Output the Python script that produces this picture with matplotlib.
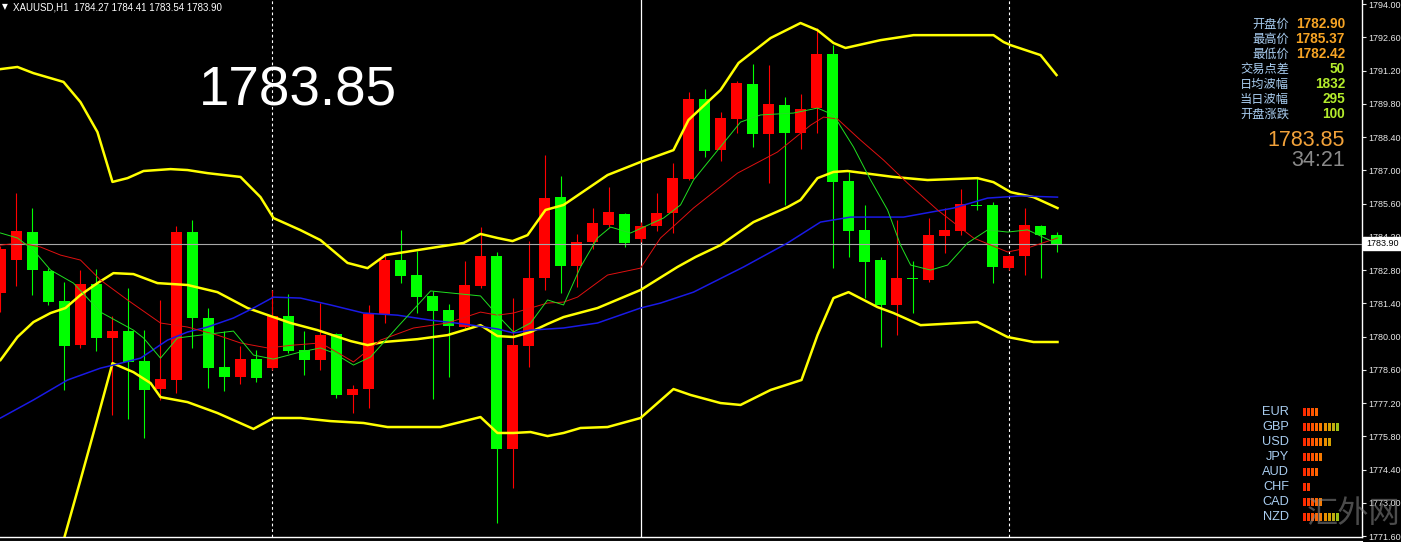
import matplotlib
matplotlib.use('Agg')
import matplotlib.pyplot as plt
from matplotlib.patches import Rectangle

# ---------------- data ----------------
opens = [1781.84, 1783.22, 1784.40, 1782.76, 1781.50, 1779.65, 1782.21, 1779.94, 1780.24, 1778.97,
         1777.79, 1778.17, 1784.40, 1780.78, 1778.72, 1778.30, 1779.06, 1778.68, 1780.87, 1779.44,
         1779.01, 1780.11, 1777.54, 1777.79, 1780.95, 1783.22, 1782.59, 1781.71, 1781.12, 1780.40,
         1782.13, 1783.39, 1775.27, 1779.60, 1782.47, 1785.88, 1782.97, 1783.98, 1784.70, 1785.16,
         1784.11, 1784.65, 1785.20, 1786.63, 1790.00, 1787.85, 1789.16, 1790.63, 1788.53, 1789.75,
         1788.57, 1789.62, 1791.90, 1786.55, 1784.49, 1783.22, 1781.33, 1782.47, 1782.38, 1784.23,
         1784.44, 1785.54, 1785.54, 1782.89, 1783.39, 1784.65, 1784.27]
highs = [1783.81, 1786.05, 1785.41, 1782.89, 1782.30, 1782.80, 1782.85, 1780.87, 1782.05, 1780.28,
         1781.54, 1784.65, 1784.91, 1781.20, 1780.24, 1779.60, 1779.44, 1781.96, 1781.79, 1780.24,
         1781.41, 1780.15, 1777.96, 1781.33, 1783.43, 1784.49, 1783.60, 1781.92, 1781.37, 1783.18,
         1784.61, 1783.56, 1781.62, 1784.02, 1787.64, 1786.76, 1784.32, 1785.41, 1786.30, 1785.20,
         1784.82, 1786.05, 1787.31, 1790.30, 1790.42, 1789.45, 1790.76, 1791.48, 1791.43, 1790.09,
         1790.21, 1792.99, 1792.28, 1786.93, 1785.54, 1783.35, 1784.91, 1783.18, 1784.99, 1785.41,
         1786.21, 1786.68, 1785.67, 1783.43, 1785.41, 1784.70, 1784.41]
lows = [1781.03, 1782.13, 1781.75, 1781.33, 1777.75, 1779.52, 1779.39, 1776.70, 1776.53, 1775.73,
        1777.33, 1777.63, 1779.52, 1777.84, 1777.71, 1778.00, 1778.09, 1778.59, 1779.31, 1778.38,
        1778.59, 1777.41, 1776.78, 1776.99, 1780.57, 1782.26, 1780.99, 1777.37, 1778.30, 1780.36,
        1782.05, 1772.15, 1773.63, 1778.72, 1781.96, 1781.84, 1782.09, 1783.69, 1784.61, 1783.77,
        1783.98, 1784.44, 1784.36, 1786.59, 1787.56, 1787.39, 1788.57, 1787.98, 1786.47, 1785.54,
        1787.90, 1788.57, 1782.89, 1783.35, 1781.62, 1779.56, 1780.07, 1780.99, 1782.30, 1783.52,
        1784.28, 1785.33, 1782.26, 1782.80, 1782.59, 1782.47, 1783.54]
closes = [1783.69, 1784.44, 1782.80, 1781.46, 1779.60, 1782.21, 1779.94, 1780.24, 1778.93, 1777.75,
          1778.21, 1784.40, 1780.78, 1778.68, 1778.30, 1779.06, 1778.26, 1780.87, 1779.39, 1779.01,
          1780.07, 1777.54, 1777.79, 1780.95, 1783.22, 1782.55, 1781.67, 1781.08, 1780.45, 1782.17,
          1783.39, 1775.27, 1779.65, 1782.47, 1785.83, 1782.97, 1783.98, 1784.78, 1785.25, 1783.94,
          1784.65, 1785.20, 1786.68, 1790.00, 1787.81, 1789.20, 1790.68, 1788.53, 1789.79, 1788.57,
          1789.58, 1791.90, 1786.51, 1784.44, 1783.14, 1781.33, 1782.47, 1782.42, 1784.28, 1784.49,
          1785.58, 1785.50, 1782.93, 1783.39, 1784.70, 1784.28, 1783.90]

# Bollinger bands : bar position, price
bb_up_x = [0.0, 1.06, 2.06, 3.13, 3.94, 5.0, 6.06, 7.0, 7.94, 8.94, 10.63, 11.69, 12.94, 15.0, 16.25,
           17.06, 18.75, 20.0, 21.69, 22.94, 24.06, 26.06, 28.94, 30.0, 31.06, 32.0, 32.94, 34.06,
           35.19, 37.94, 40.0, 42.06, 43.0, 45.0, 46.13, 48.13, 50.0, 51.06, 52.06, 52.81, 55.0,
           57.06, 62.06, 62.69, 63.13, 65.0, 66.0]
bb_up_y = [1791.26, 1791.35, 1791.09, 1790.88, 1790.72, 1789.87, 1788.61, 1786.51, 1786.67, 1786.97,
           1787.05, 1787.01, 1786.88, 1786.72, 1785.87, 1784.99, 1784.48, 1784.06, 1783.10, 1782.88,
           1783.43, 1783.64, 1783.94, 1784.32, 1784.15, 1784.02, 1784.27, 1785.33, 1785.54, 1786.80,
           1787.35, 1787.85, 1789.12, 1790.38, 1791.52, 1792.57, 1793.20, 1792.90, 1792.36, 1792.15,
           1792.48, 1792.69, 1792.69, 1792.40, 1792.27, 1791.85, 1791.01]
bb_mid_x = [0.0, 1.06, 2.06, 3.13, 4.06, 5.0, 6.06, 7.06, 8.31, 9.81, 11.69, 13.56, 15.44, 17.06,
            18.13, 19.81, 21.88, 22.94, 23.94, 26.06, 27.94, 30.0, 31.06, 32.06, 33.13, 34.19, 35.19,
            37.31, 40.0, 42.31, 43.44, 45.0, 47.06, 49.19, 50.0, 51.06, 52.06, 52.94, 55.81, 57.94,
            61.06, 62.06, 63.13, 64.56, 66.06]
bb_mid_y = [1779.01, 1779.98, 1780.61, 1780.99, 1781.20, 1781.75, 1782.25, 1782.67, 1782.63, 1782.25,
            1782.17, 1781.87, 1781.20, 1780.82, 1780.57, 1780.27, 1779.81, 1779.64, 1779.77, 1779.89,
            1780.06, 1780.48, 1780.02, 1779.98, 1780.19, 1780.53, 1780.82, 1781.20, 1781.96, 1782.93,
            1783.35, 1783.85, 1784.82, 1785.45, 1785.75, 1786.67, 1786.93, 1786.97, 1786.72, 1786.59,
            1786.67, 1786.50, 1786.08, 1785.87, 1785.41]
bb_low_x = [3.6, 5.0, 6.0, 7.0, 8.31, 9.38, 10.0, 11.69, 13.56, 15.81, 17.06, 18.75, 20.63, 22.69,
            24.19, 27.5, 30.0, 31.06, 32.06, 33.13, 34.19, 35.19, 36.25, 37.94, 40.0, 42.06, 43.13,
            45.0, 46.25, 48.13, 50.06, 51.06, 52.06, 53.0, 54.81, 55.81, 57.5, 61.06, 62.06, 62.94,
            64.56, 66.06]
bb_low_y = [1770.60, 1773.96, 1776.40, 1778.88, 1778.50, 1778.04, 1777.45, 1777.24, 1776.78, 1776.11,
            1776.57, 1776.57, 1776.44, 1776.36, 1776.19, 1776.19, 1776.61, 1775.94, 1775.94, 1775.98,
            1775.81, 1775.94, 1776.15, 1776.19, 1776.57, 1777.79, 1777.54, 1777.20, 1777.12, 1777.75,
            1778.17, 1780.06, 1781.62, 1781.87, 1781.24, 1780.99, 1780.48, 1780.61, 1780.28, 1779.98,
            1779.77, 1779.77]

# slow moving average (blue)
ma_slow_x = [0.0, 2.06, 4.19, 6.25, 7.06, 8.75, 10.44, 11.69, 12.94, 14.56, 15.81, 17.06, 18.75,
             20.63, 22.69, 24.81, 26.88, 28.94, 31.06, 32.06, 33.13, 35.19, 37.31, 40.0, 41.25, 43.31,
             46.44, 49.19, 51.25, 53.13, 56.44, 59.56, 61.69, 63.75, 66.06]
ma_slow_y = [1776.57, 1777.33, 1778.17, 1778.67, 1778.80, 1779.09, 1779.85, 1780.19, 1780.40, 1780.78,
             1781.20, 1781.66, 1781.62, 1781.33, 1780.99, 1780.90, 1780.69, 1780.53, 1780.32, 1780.15,
             1780.27, 1780.36, 1780.57, 1781.20, 1781.41, 1781.87, 1782.93, 1783.94, 1784.82, 1785.03,
             1785.03, 1785.41, 1785.83, 1785.92, 1785.87]
# medium moving average (thin red)
ma_mid_x = [0.0, 1.25, 2.5, 3.75, 5.0, 6.25, 7.94, 10.0, 11.69, 13.56, 15.0, 16.69, 18.31, 20.0,
            21.0, 22.06, 23.75, 25.81, 27.94, 30.0, 31.06, 32.06, 33.13, 34.19, 35.19, 36.06, 37.94,
            40.0, 41.25, 42.5, 43.31, 46.06, 48.56, 50.63, 51.44, 52.31, 53.75, 55.19, 56.69, 58.56,
            60.81, 62.94, 64.19, 66.06]
ma_mid_y = [1783.85, 1783.94, 1783.77, 1783.43, 1783.22, 1782.38, 1781.54, 1780.57, 1780.40, 1780.06,
            1779.73, 1779.52, 1779.64, 1779.73, 1779.35, 1778.93, 1779.85, 1780.36, 1780.57, 1781.03,
            1780.90, 1780.99, 1781.20, 1781.41, 1781.45, 1781.66, 1782.59, 1782.88, 1784.15, 1784.91,
            1785.41, 1786.88, 1787.77, 1788.90, 1789.24, 1789.16, 1788.27, 1787.43, 1786.46, 1785.33,
            1784.15, 1783.56, 1783.73, 1784.15]
# fast moving average (thin green)
ma_fast_x = [0.0, 1.06, 2.06, 3.13, 4.56, 6.25, 8.31, 8.94, 10.0, 11.06, 12.5, 14.56, 15.81, 17.06,
             18.75, 20.0, 20.81, 22.06, 23.13, 24.81, 26.88, 30.0, 31.06, 32.06, 33.13, 34.19, 35.19,
             36.25, 37.31, 38.13, 39.38, 41.44, 42.5, 43.31, 46.25, 47.5, 49.56, 51.06, 52.06, 53.31,
             54.38, 55.44, 56.25, 56.88, 58.13, 59.19, 60.44, 61.69, 62.94, 64.19, 65.81]
ma_fast_y = [1784.36, 1784.15, 1783.64, 1782.80, 1782.25, 1781.03, 1780.27, 1779.94, 1779.09, 1779.94,
             1780.06, 1780.23, 1779.22, 1779.05, 1779.35, 1779.52, 1779.31, 1778.80, 1779.14, 1780.40,
             1781.92, 1781.71, 1780.90, 1780.19, 1780.57, 1781.54, 1781.33, 1782.93, 1784.15, 1784.61,
             1784.36, 1784.99, 1785.54, 1786.59, 1789.03, 1789.33, 1789.41, 1789.62, 1789.33, 1787.98,
             1786.59, 1785.33, 1783.85, 1783.01, 1782.80, 1783.01, 1783.94, 1784.49, 1784.40, 1784.49,
             1783.98]

separators_dashed = [17, 63]
separators_solid = [40]
price_levels = [1794.00 - 1.40 * k for k in range(17)]

symbol = 'XAUUSD,H1'
big_price = '1783.85'
info_labels = ['开盘价', '最高价', '最低价', '交易点差', '日均波幅', '当日波幅', '开盘涨跌']
info_values = ['1782.90', '1785.37', '1782.42', '50', '1832', '295', '100']
info_colors = ['#f7a424', '#f7a424', '#f7a424', '#b4ec2c', '#b4ec2c', '#b4ec2c', '#b4ec2c']
bid_text = '1783.85'
timer_text = '34:21'
currencies = ['EUR', 'GBP', 'USD', 'JPY', 'AUD', 'CHF', 'CAD', 'NZD']
strength = [4, 9, 7, 5, 4, 2, 5, 9]
strength_colors = ['#ff2a00', '#ff3c00', '#ff5200', '#ff6600', '#f77a00', '#e88e00', '#d6a000',
                   '#c0ae10', '#9cc014']
watermark = '汇外网'

# ---------------- figure ----------------
W, H = 1401, 542
fig = plt.figure(figsize=(W / 100, H / 100), dpi=100, facecolor='black')
ax = fig.add_axes([0, 5 / H, 1362 / W, 537 / H], facecolor='black')
ax.set_xlim(-0.03, 85.09)
ax.set_ylim(1771.56, 1794.17)


def fx(px):
    return px / W


def fy(py):
    return 1 - py / H


xs = list(range(len(closes)))
body_w = 0.69
for i in xs:
    o, h, l, c = opens[i], highs[i], lows[i], closes[i]
    col = '#ff0000' if c >= o else '#00ff00'
    ax.vlines(i, l, h, color=col, lw=0.8, zorder=3)
    ax.bar(i, max(abs(c - o), 0.045), bottom=min(o, c), width=body_w, color=col,
           edgecolor='none', zorder=4)

for s in separators_dashed:
    ax.axvline(s, color='white', lw=0.8, ls=(0, (2.5, 2.5)), zorder=1)
for s in separators_solid:
    ax.axvline(s, color='white', lw=0.9, zorder=1)

ax.axhline(closes[-1], color='#a8a8a8', lw=0.8, zorder=5)

ax.plot(bb_up_x, bb_up_y, color='#ffff00', lw=1.8, zorder=6, solid_joinstyle='round')
ax.plot(bb_mid_x, bb_mid_y, color='#ffff00', lw=1.8, zorder=6, solid_joinstyle='round')
ax.plot(bb_low_x, bb_low_y, color='#ffff00', lw=1.8, zorder=6, solid_joinstyle='round')
ax.plot(ma_slow_x, ma_slow_y, color='#1a1ae6', lw=1.1, zorder=6)
ax.plot(ma_mid_x, ma_mid_y, color='#e01010', lw=0.7, zorder=7)
ax.plot(ma_fast_x, ma_fast_y, color='#20e020', lw=0.7, zorder=7)

# axes styling
for sp in ['top', 'left']:
    ax.spines[sp].set_visible(False)
ax.spines['right'].set_color('white')
ax.spines['bottom'].set_color('white')
ax.spines['right'].set_linewidth(1.0)
ax.spines['bottom'].set_linewidth(1.0)
ax.set_xticks([])
ax.yaxis.tick_right()
ax.set_yticks(price_levels)
ax.set_yticklabels(['%.2f' % v for v in price_levels], family='Liberation Sans', fontsize=6.5)
ax.tick_params(axis='y', colors='#e8e8e8', length=3, width=0.8, pad=1.5, direction='out')

# second frame line at the bottom
fig.add_artist(plt.Line2D([0, fx(1362)], [fy(540.5), fy(540.5)], color='white', lw=0.8,
                          transform=fig.transFigure))

# price box for the last price
fig.canvas.draw()
ydisp = ax.transData.transform((0, closes[-1]))[1]
yfig = fig.transFigure.inverted().transform((0, ydisp))[1]
fig.add_artist(Rectangle((fx(1363), yfig - 6.5 / H), fx(38), 13 / H, transform=fig.transFigure,
                         facecolor='white', edgecolor='white', zorder=20))
fig.text(fx(1366), yfig, '%.2f' % closes[-1], color='black', fontsize=6.5, family='Liberation Sans',
         va='center', ha='left', zorder=21)

# header
fig.text(fx(2), fy(7), '▼', color='white', fontsize=5.5, family='DejaVu Sans', va='center')
fig.text(fx(13), fy(7), '%s  %.2f %.2f %.2f %.2f' % (symbol, opens[-1], highs[-1], lows[-1], closes[-1]),
         color='white', fontsize=7, family='Liberation Sans', va='center', ha='left')

# big price
fig.text(fx(199), fy(91), big_price, color='white', fontsize=39.5, family='Liberation Sans',
         va='center', ha='left')

# info panel
row_y = [24, 39, 54, 69, 84, 99, 114]
for lab, val, col, yy in zip(info_labels, info_values, info_colors, row_y):
    fig.text(fx(1289), fy(yy), lab, color='#a9cdf0', fontsize=8.8,
             family=['Noto Sans CJK SC', 'DejaVu Sans'], ha='right', va='center')
    fig.text(fx(1345), fy(yy), val, color=col, fontsize=9.8, family='Liberation Sans',
             fontweight='bold', ha='right', va='center')
fig.text(fx(1345), fy(141), bid_text, color='#f2a23a', fontsize=15.5, family='Liberation Sans',
         ha='right', va='center')
fig.text(fx(1345), fy(160), timer_text, color='#8a8a8a', fontsize=15.5, family='Liberation Sans',
         ha='right', va='center')

# currency strength
cur_y = [412, 427, 442, 457, 472, 487, 502, 517]
for name, n, yy in zip(currencies, strength, cur_y):
    fig.text(fx(1289), fy(yy), name, color='#a9cdf0', fontsize=9.2, family='Liberation Sans',
             ha='right', va='center')
    for k in range(n):
        fig.add_artist(Rectangle((fx(1302.5 + 4.2 * k), fy(yy + 4)), fx(3.0), 8 / H,
                                 transform=fig.transFigure, facecolor=strength_colors[k],
                                 edgecolor='none', zorder=15))

# watermark
fig.text(fx(1354), fy(514), watermark, color='#8a8a8a', alpha=0.55, fontsize=22.5,
         family=['Noto Sans CJK SC', 'DejaVu Sans'], fontweight='light', ha='center', va='center',
         zorder=30)

fig.savefig('out.png', dpi=100, facecolor='black')
